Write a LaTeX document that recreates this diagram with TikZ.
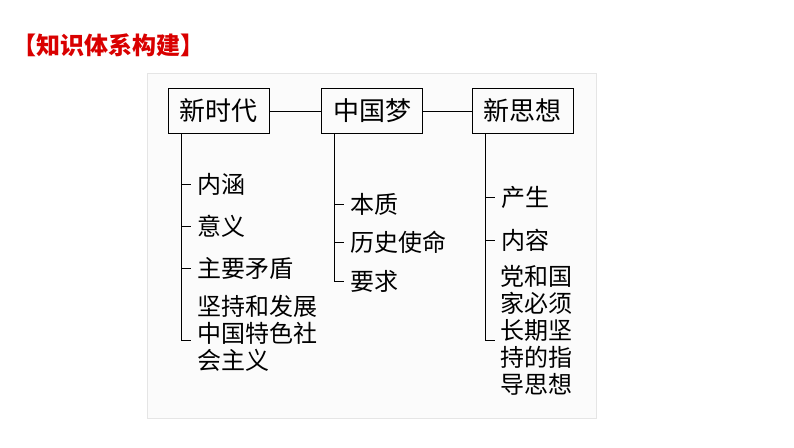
\documentclass[tikz,border=0pt]{standalone}
\usepackage{fontspec}
\newfontfamily\cjk{Noto Sans CJK SC}
\usetikzlibrary{positioning}
\tikzset{%
topic/.style={draw,thick,minimum width=101pt,minimum height=45pt,font=\cjk\fontsize{26}{26}\selectfont,inner sep=2pt},
item/.style={anchor=west,font=\cjk\fontsize{24}{27}\selectfont,inner sep=0pt,align=left},
branch/.style={thick}
}
\begin{document}
\begin{tikzpicture}[x=1pt,y=-1pt]
\useasboundingbox[fill=white] (0,0) rectangle (794,447);
\draw[gray!20,fill=gray!3] (147,73) rectangle (596,418);
\node[anchor=west,red!85!black,font=\cjk\bfseries\fontsize{24}{24}\selectfont,inner sep=0pt] (title) at (12,45) {【知识体系构建】};
\node[topic] (era) at (218.5,111) {新时代};
\node[topic] (dream) at (372,111) {中国梦};
\node[topic] (thought) at (522.5,111) {新思想};
\draw[branch] (era) -- (dream);
\draw[branch] (dream) -- (thought);
% new era
\draw[branch] (181,133) -- (181,340);
\foreach \y/\t in {184/内涵,226/意义,268/主要矛盾}
  \draw[branch] (181,\y) -- ++(10,0) node[item,right=6pt] {\t};
\draw[branch] (181,340) -- ++(10,0);
\node[item,anchor=north west] (uphold) at (197,295) {坚持和发展\\中国特色社\\会主义};
% china dream
\draw[branch] (334,133) -- (334,281);
\foreach \y/\t in {204/本质,242/历史使命,281/要求}
  \draw[branch] (334,\y) -- ++(10,0) node[item,right=6pt] {\t};
% new thought
\draw[branch] (485,133) -- (485,340);
\foreach \y/\t in {197/产生,240/内容}
  \draw[branch] (485,\y) -- ++(10,0) node[item,right=6pt] {\t};
\draw[branch] (485,340) -- ++(10,0);
\node[item,anchor=north west] (guide) at (500,265) {党和国\\家必须\\长期坚\\持的指\\导思想};
\end{tikzpicture}
\end{document}
